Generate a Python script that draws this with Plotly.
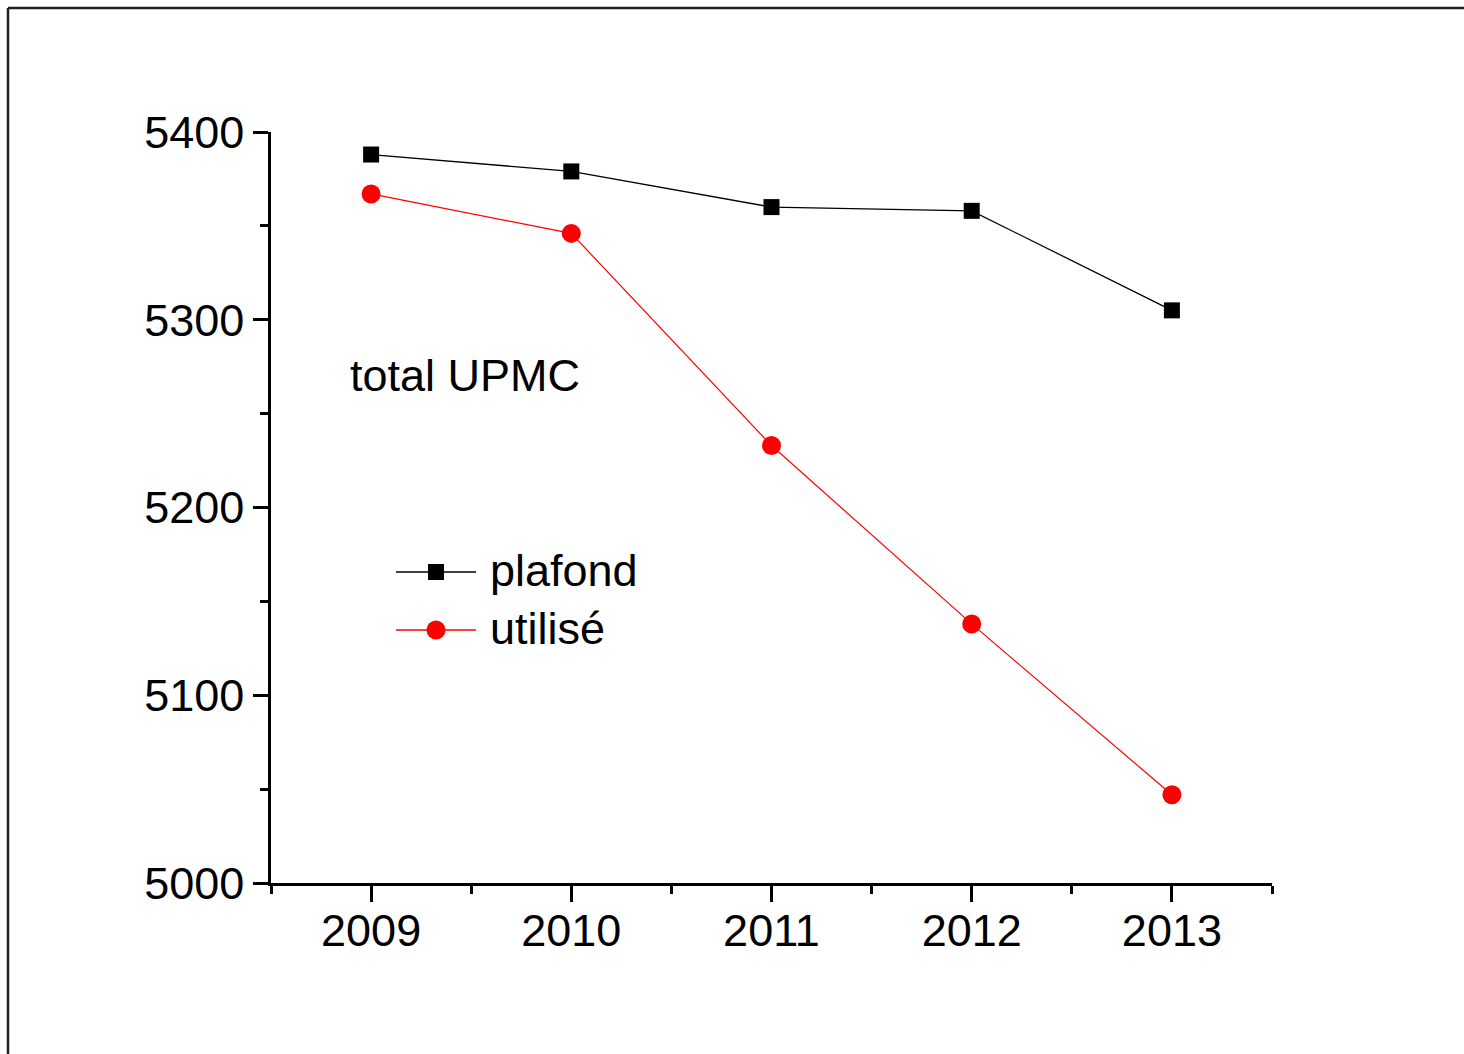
import plotly.graph_objects as go

# Data: yearly totals for UPMC
years = [2009, 2010, 2011, 2012, 2013]
plafond = [5388, 5379, 5360, 5358, 5305]
utilise = [5367, 5346, 5233, 5138, 5047]

W, H = 1464, 1054
L, R, T, B = 271, 192, 132, 171
PW, PH = W - L - R, H - T - B

FONT = "Liberation Sans, Arial, sans-serif"


def px(x):
    return (x - L) / PW


def py(y):
    return (H - B - y) / PH


fig = go.Figure()
fig.add_trace(go.Scatter(
    x=years, y=plafond, name="plafond", mode="lines+markers",
    line=dict(color="black", width=1.3),
    marker=dict(symbol="square", size=16, color="black"),
))
fig.add_trace(go.Scatter(
    x=years, y=utilise, name="utilisé", mode="lines+markers",
    line=dict(color="#ff0000", width=1.2),
    marker=dict(symbol="circle", size=19, color="#ff0000"),
))

shapes = []
annotations = []

# Hand-placed legend block
legend_items = [("plafond", "black", "square", 572), ("utilisé", "#ff0000", "circle", 630)]
for label, color, sym, ypix in legend_items:
    shapes.append(dict(type="line", xref="paper", yref="paper",
                       x0=px(396), x1=px(476), y0=py(ypix), y1=py(ypix),
                       line=dict(color=color, width=1.3)))
    half = 8 if sym == "square" else 9.5
    shapes.append(dict(type="rect" if sym == "square" else "circle",
                       xref="paper", yref="paper",
                       x0=px(436 - half), x1=px(436 + half),
                       y0=py(ypix + half), y1=py(ypix - half),
                       fillcolor=color, line=dict(color=color, width=0)))
    annotations.append(dict(text=label, xref="paper", yref="paper",
                            x=px(488), y=py(ypix - 2), xanchor="left", yanchor="middle",
                            showarrow=False, font=dict(family=FONT, size=45, color="black")))

annotations.append(dict(text="total UPMC", xref="paper", yref="paper",
                        x=px(348), y=py(375), xanchor="left", yanchor="middle",
                        showarrow=False, font=dict(family=FONT, size=45, color="black")))

# Outer frame (top and left edges of the page border)
shapes.append(dict(type="line", xref="paper", yref="paper",
                   x0=px(8), x1=px(W + 10), y0=py(8), y1=py(8),
                   line=dict(color="#222222", width=2.5)))
shapes.append(dict(type="line", xref="paper", yref="paper",
                   x0=px(8), x1=px(8), y0=py(8), y1=py(H + 10),
                   line=dict(color="#222222", width=2.5)))

fig.update_layout(
    width=W, height=H,
    margin=dict(l=L, r=R, t=T, b=B, pad=0),
    paper_bgcolor="white", plot_bgcolor="white",
    showlegend=False,
    shapes=shapes, annotations=annotations,
    font=dict(family=FONT, size=45, color="black"),
)
fig.update_xaxes(
    range=[2008.5, 2013.5], tickmode="linear", tick0=2009, dtick=1,
    showline=True, linecolor="black", linewidth=2.5, mirror=False,
    ticks="outside", ticklen=16, tickwidth=2.5, tickcolor="black",
    ticklabelstandoff=-10,
    minor=dict(ticks="outside", ticklen=8, tickwidth=2.5, tickcolor="black",
               tick0=2008.5, dtick=0.5),
    showgrid=False, zeroline=False,
    tickfont=dict(family=FONT, size=45, color="black"),
)
fig.update_yaxes(
    range=[5000, 5400], tickmode="linear", tick0=5000, dtick=100,
    showline=True, linecolor="black", linewidth=2.5,
    ticks="outside", ticklen=15, tickwidth=2.5, tickcolor="black",
    minor=dict(ticks="outside", ticklen=8, tickwidth=2.5, tickcolor="black",
               tick0=5000, dtick=50),
    showgrid=False, zeroline=False,
    tickfont=dict(family=FONT, size=45, color="black"),
)

fig.write_html("out.html")
